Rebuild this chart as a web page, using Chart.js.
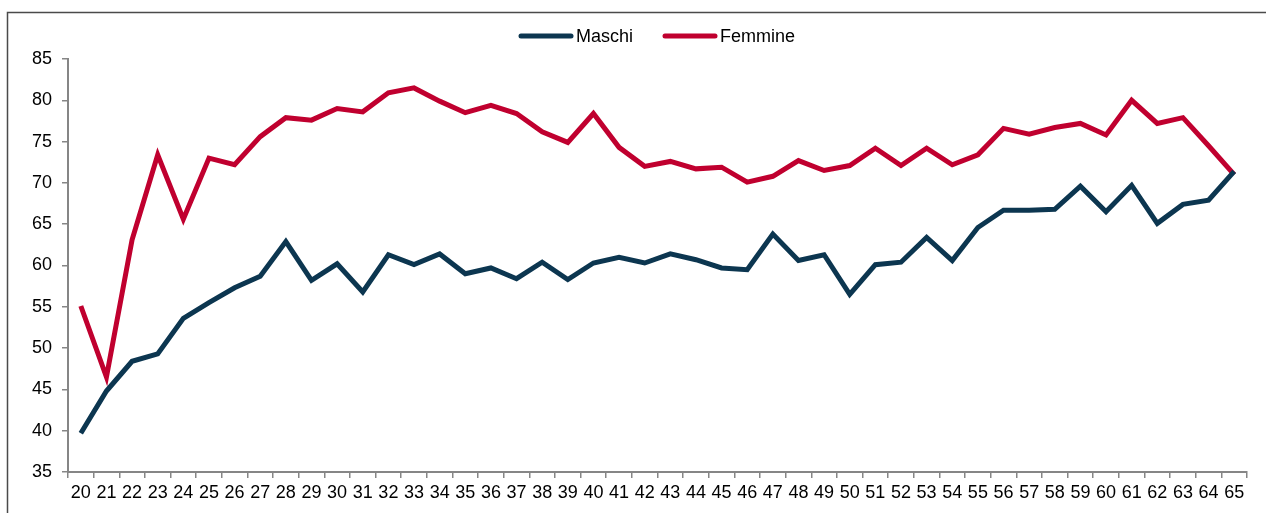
<!DOCTYPE html>
<html>
<head>
<meta charset="utf-8">
<script src="https://cdn.jsdelivr.net/npm/chart.js@4/dist/chart.umd.min.js"></script>
<style>
  html, body { margin: 0; padding: 0; background: #fff; }
  #chart { display: block; }
</style>
</head>
<body>
<canvas id="chart" width="1266" height="513"></canvas>
<script>
// eta 20..65
const eta = [
  "20","21","22","23","24","25","26","27","28","29","30","31","32","33","34","35",
  "36","37","38","39","40","41","42","43","44","45","46","47","48","49","50","51",
  "52","53","54","55","56","57","58","59","60","61","62","63","64","65"
];

const maschi = [
  39.7, 44.8, 48.4, 49.3, 53.6, 55.5, 57.3, 58.7, 62.9, 58.2, 60.2, 56.8, 61.3, 60.1, 61.4, 59.0,
  59.7, 58.4, 60.4, 58.3, 60.3, 61.0, 60.3, 61.4, 60.7, 59.7, 59.5, 63.8, 60.6, 61.3, 56.5, 60.1,
  60.4, 63.4, 60.6, 64.6, 66.7, 66.7, 66.8, 69.6, 66.5, 69.7, 65.1, 67.4, 67.9, 71.4
];

const femmine = [
  55.1, 46.5, 63.1, 73.4, 65.6, 73.0, 72.2, 75.6, 77.9, 77.6, 79.0, 78.6, 80.9, 81.5, 79.9, 78.5,
  79.4, 78.4, 76.2, 74.9, 78.4, 74.3, 72.0, 72.6, 71.7, 71.9, 70.1, 70.8, 72.7, 71.5, 72.1, 74.2,
  72.1, 74.2, 72.2, 73.4, 76.6, 75.9, 76.7, 77.2, 75.8, 80.0, 77.2, 77.9, 74.5, 71.0
];

const yTicks = [35, 40, 45, 50, 55, 60, 65, 70, 75, 80, 85];

const BLU = "#0c3650";
const ROSSO = "#c0002f";
const GRIGIO = "#868686";
const FONT = "'Liberation Sans', Arial, sans-serif";
const FONT_STRETTO = "'Liberation Sans Narrow', 'Arial Narrow', 'Liberation Sans', Arial, sans-serif";

// cornice esterna + legenda centrata in alto
const cornice = {
  id: "cornice",
  beforeDraw: (chart) => {
    const { ctx } = chart;
    ctx.save();
    ctx.fillStyle = "#fff";
    ctx.fillRect(0, 0, chart.width, chart.height);
    ctx.strokeStyle = "#4a4a4a";
    ctx.lineWidth = 1.5;
    ctx.beginPath();
    ctx.moveTo(7.5, chart.height);
    ctx.lineTo(7.5, 12.5);
    ctx.lineTo(chart.width, 12.5);
    ctx.stroke();
    ctx.restore();
  },
  afterDraw: (chart) => {
    const { ctx } = chart;
    const voci = [
      { x: 519, ds: chart.data.datasets[0] },
      { x: 663, ds: chart.data.datasets[1] },
    ];
    ctx.save();
    ctx.font = "18px " + FONT;
    ctx.textBaseline = "middle";
    ctx.fillStyle = "#000";
    voci.forEach((v) => {
      ctx.strokeStyle = v.ds.borderColor;
      ctx.lineWidth = 5;
      ctx.lineCap = "round";
      ctx.beginPath();
      ctx.moveTo(v.x + 2, 36);
      ctx.lineTo(v.x + 52, 36);
      ctx.stroke();
      ctx.fillText(v.ds.label, v.x + 57, 37);
    });
    ctx.restore();
  },
};

const config = {
  type: "line",
  data: {
    labels: eta,
    datasets: [
      {
        label: "Maschi",
        data: maschi,
        borderColor: BLU,
        backgroundColor: BLU,
        borderWidth: 5,
        pointRadius: 0,
        tension: 0,
      },
      {
        label: "Femmine",
        data: femmine,
        borderColor: ROSSO,
        backgroundColor: ROSSO,
        borderWidth: 5,
        pointRadius: 0,
        tension: 0,
      },
    ],
  },
  plugins: [cornice],
  options: {
    responsive: false,
    animation: false,
    layout: { padding: { left: 0, top: 59, right: 19, bottom: 0 } },
    plugins: {
      legend: { display: false },
      tooltip: { enabled: false },
    },
    scales: {
      x: {
        offset: true,
        afterFit: (scale) => { scale.height = 41; },
        border: { display: true, color: GRIGIO, width: 2 },
        grid: {
          offset: true,
          drawOnChartArea: false,
          drawTicks: true,
          tickLength: 6,
          color: GRIGIO,
          lineWidth: 1.5,
        },
        ticks: {
          color: "#000",
          font: { family: FONT_STRETTO, size: 18 },
          padding: 4,
          maxRotation: 0,
          autoSkip: false,
        },
      },
      y: {
        min: 35,
        max: 85,
        afterFit: (scale) => { scale.width = 68; },
        afterBuildTicks: (scale) => {
          scale.ticks = yTicks.map((v) => ({ value: v }));
        },
        border: { display: true, color: GRIGIO, width: 2 },
        grid: {
          drawOnChartArea: false,
          drawTicks: true,
          tickLength: 6,
          color: GRIGIO,
          lineWidth: 1.5,
        },
        ticks: {
          color: "#000",
          font: { family: FONT, size: 18 },
          padding: 10,
        },
      },
    },
  },
};

new Chart(document.getElementById("chart"), config);
</script>
</body>
</html>
